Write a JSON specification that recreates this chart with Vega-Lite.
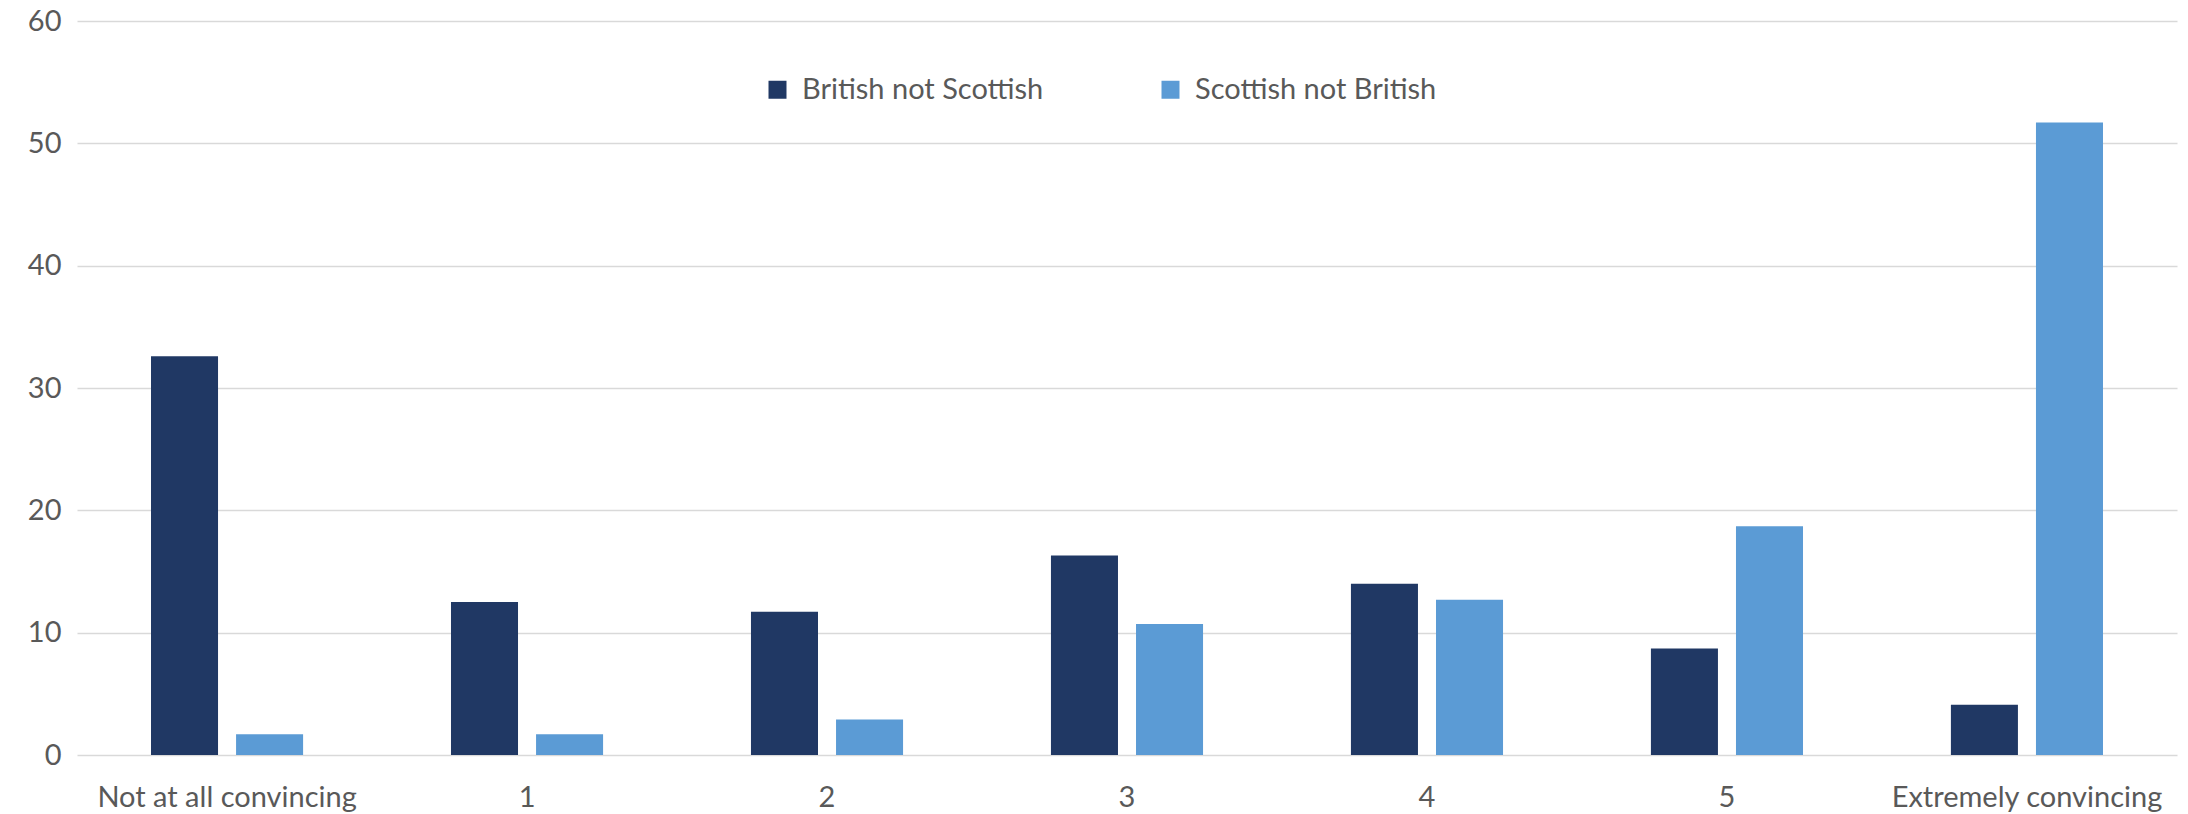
{
  "$schema": "https://vega.github.io/schema/vega-lite/v6.json",
  "autosize": {"type": "none"},
  "width": 2100,
  "height": 734,
  "padding": {"left": 77, "top": 21, "right": 11, "bottom": 59},
  "background": "white",
  "config": {
    "view": {"stroke": null},
    "font": "Lato",
    "axis": {"labelFont": "Lato", "labelColor": "#595959", "labelFontSize": 29, "labelLimit": 0},
    "legend": {"labelFont": "Lato", "labelColor": "#595959", "labelFontSize": 29, "labelLimit": 0}
  },
  "data": {
    "values": [
      {"category": "Not at all convincing", "series": "British not Scottish", "value": 32.6},
      {"category": "Not at all convincing", "series": "Scottish not British", "value": 1.7},
      {"category": "1", "series": "British not Scottish", "value": 12.5},
      {"category": "1", "series": "Scottish not British", "value": 1.7},
      {"category": "2", "series": "British not Scottish", "value": 11.7},
      {"category": "2", "series": "Scottish not British", "value": 2.9},
      {"category": "3", "series": "British not Scottish", "value": 16.3},
      {"category": "3", "series": "Scottish not British", "value": 10.7},
      {"category": "4", "series": "British not Scottish", "value": 14.0},
      {"category": "4", "series": "Scottish not British", "value": 12.7},
      {"category": "5", "series": "British not Scottish", "value": 8.7},
      {"category": "5", "series": "Scottish not British", "value": 18.7},
      {"category": "Extremely convincing", "series": "British not Scottish", "value": 4.1},
      {"category": "Extremely convincing", "series": "Scottish not British", "value": 51.7}
    ]
  },
  "mark": {"type": "bar"},
  "encoding": {
    "x": {
      "field": "category",
      "type": "nominal",
      "sort": ["Not at all convincing", "1", "2", "3", "4", "5", "Extremely convincing"],
      "scale": {"paddingInner": 0.493, "paddingOuter": 0.2467},
      "axis": {
        "title": null,
        "labelAngle": 0,
        "domain": false,
        "ticks": false,
        "labelPadding": 28
      }
    },
    "xOffset": {
      "field": "series",
      "type": "nominal",
      "scale": {"paddingInner": 0.212, "paddingOuter": 0}
    },
    "y": {
      "field": "value",
      "type": "quantitative",
      "scale": {"domain": [0, 60]},
      "axis": {
        "title": null,
        "values": [0, 10, 20, 30, 40, 50, 60],
        "domain": false,
        "ticks": false,
        "labelPadding": 16,
        "gridColor": "#d9d9d9",
        "gridWidth": 1.5
      }
    },
    "color": {
      "field": "series",
      "type": "nominal",
      "scale": {"domain": ["British not Scottish", "Scottish not British"], "range": ["#203864", "#5b9bd5"]},
      "legend": {
        "title": null,
        "orient": "none",
        "direction": "horizontal",
        "legendX": 686,
        "legendY": 54,
        "symbolType": "square",
        "symbolSize": 324,
        "symbolStrokeWidth": 0,
        "labelOffset": 10,
        "columnPadding": 112
      }
    }
  }
}
